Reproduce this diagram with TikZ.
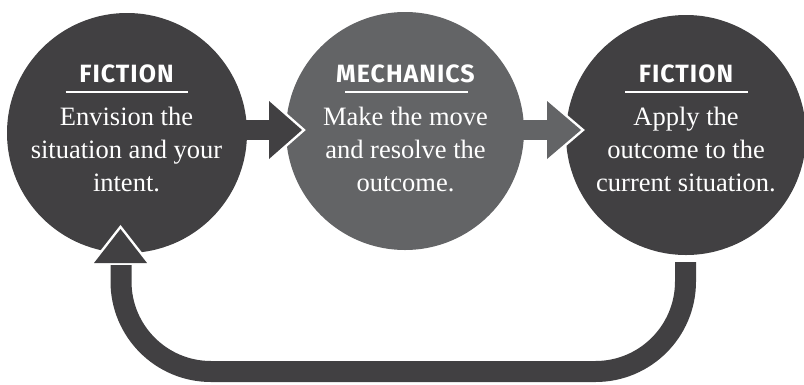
\documentclass[tikz,border=0pt]{standalone}
\usepackage{fontspec}
\setmainfont{Liberation Serif}
\newfontfamily\titlefont{Fira Sans}[LetterSpace=4]
\definecolor{dk}{HTML}{414042}
\definecolor{md}{HTML}{636466}
\tikzset{
  disc/.style={circle, inner sep=0pt, minimum size=#1},
  ttl/.style={text=white, font=\titlefont\bfseries\fontsize{25}{25}\selectfont, anchor=base, inner sep=0pt},
  bod/.style={text=white, font=\fontsize{26.5}{33}\selectfont, anchor=base, inner sep=0pt},
  rule/.style={white, line width=2.5pt},
  halo/.style={white, line width=5pt, line join=miter},
}
\begin{document}
\begin{tikzpicture}[x=1pt,y=-1pt]
\useasboundingbox (0,0) rectangle (804,384);
\clip (0,0) rectangle (804,384);
% circles
\node[disc=240pt, fill=dk] (L) at (127,133) {};
\node[disc=238pt, fill=md] (M) at (405,131) {};
\node[disc=240pt, fill=dk] (R) at (686,135) {};
% arrow L -> M
\fill[dk] (230,120) rectangle (271,140);
\draw[halo] (269,101) -- (302,130) -- (269,159);
\fill[dk] (269,101) -- (302,130) -- (269,159) -- cycle;
% arrow M -> R
\fill[md] (510,120) rectangle (549,140);
\draw[halo] (547,101) -- (581,130) -- (547,159);
\fill[md] (547,101) -- (581,130) -- (547,159) -- cycle;
% loop back
\coordinate (rs) at (685.5,262);
\coordinate (lh) at (121,265);
\draw[dk, line width=21pt, rounded corners=90pt] (rs) -- (685.5,371.5) -- (121,371.5) -- (lh);
\draw[halo] (94,263) -- (120.5,229) -- (147,263);
\fill[dk] (94,263) -- (120.5,229) -- (147,263) -- cycle;
% texts left
\node[ttl] (t1) at (126.5,82) {FICTION};
\draw[rule] (65.5,92) -- (188,92);
\node[bod] (b1a) at (126.5,125) {Envision the};
\node[bod] (b1b) at (126.5,158) {situation and your};
\node[bod] (b1c) at (126.5,191) {intent.};
% texts middle
\node[ttl] (t2) at (405.5,82) {MECHANICS};
\draw[rule] (345,92) -- (468,92);
\node[bod] (b2a) at (405.5,125) {Make the move};
\node[bod] (b2b) at (405.5,158) {and resolve the};
\node[bod] (b2c) at (405.5,191) {outcome.};
% texts right
\node[ttl] (t3) at (686,82) {FICTION};
\draw[rule] (625,92) -- (748,92);
\node[bod] (b3a) at (686,125) {Apply the};
\node[bod] (b3b) at (686,158) {outcome to the};
\node[bod] (b3c) at (686,191) {current situation.};
\end{tikzpicture}
\end{document}
